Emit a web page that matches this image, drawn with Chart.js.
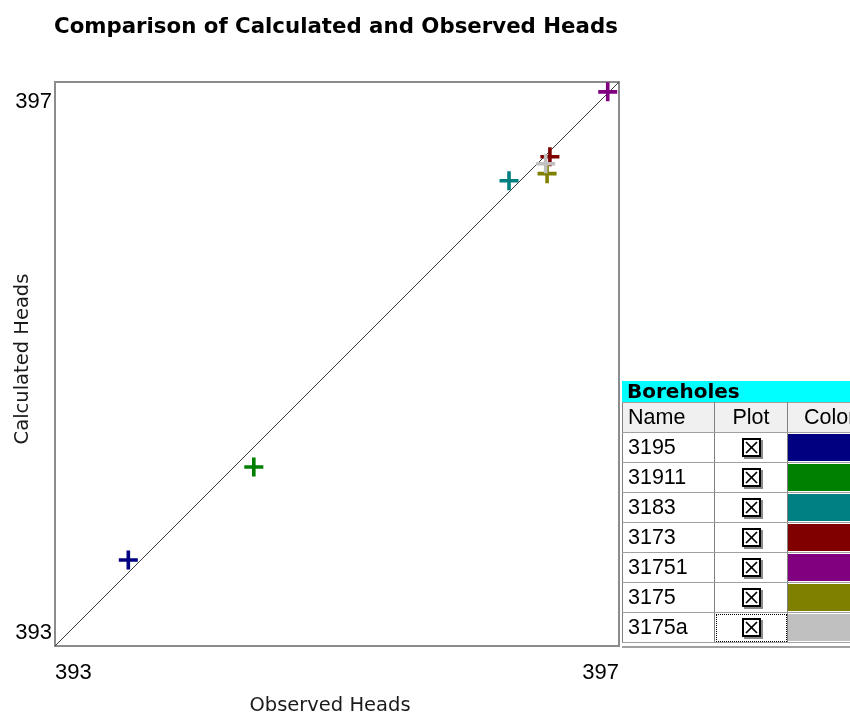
<!DOCTYPE html>
<html>
<head>
<meta charset="utf-8">
<script src="https://cdn.jsdelivr.net/npm/chart.js@4.4.1/dist/chart.umd.min.js"></script>
<style>
  html, body { margin:0; padding:0; background:#fff; }
  #wrap { position:relative; width:850px; height:715px; overflow:hidden; background:#fff; }
  #c { position:absolute; left:0; top:0; }
  #bh { position:absolute; left:622px; top:381px; width:240px; }
  #bh .hdr { background:#00ffff; height:21px; font:bold 20px "DejaVu Sans", sans-serif; line-height:21px; padding-left:5px; color:#000; }
  #bh table { border-collapse:collapse; table-layout:fixed; width:240px; font:21.5px "Liberation Sans", Arial, sans-serif; color:#000; }
  #bh td { height:29px; padding:0; border-top:1px solid #a0a0a0; border-bottom:1px solid #a0a0a0; border-left:1px solid #808080; border-right:1px solid #808080; overflow:hidden; white-space:nowrap; }
  #bh tr.head td { background:#f0f0f0; }
  #bh td.name { padding-left:5px; }
  #bh td.plot { text-align:center; }
  #bh td.color { padding:0; }
  #bh td.color div { height:27px; margin:1px 0; }
  #bh tr.head td.color { padding-left:16px; }
  .cb { display:inline-block; width:15px; height:15px; border:2px solid #000; background:#fff; box-shadow:2px 2px 0 #8a8a8a; vertical-align:middle; position:relative; top:-1px; }
  .cb svg { display:block; }
  td.focus { outline:1px dotted #000; outline-offset:-2px; }
  #bh .bottom { height:3px; border-bottom:2px solid #a0a0a0; }
</style>
</head>
<body>
<div id="wrap">
  <canvas id="c" width="850" height="715"></canvas>
  <div id="bh">
    <div class="hdr">Boreholes</div>
    <table id="tbl"></table>
    <div class="bottom"></div>
  </div>
</div>
<script>
// ---- data ----
const boreholes  = ['3195', '31911', '3183', '3173', '31751', '3175', '3175a'];
const observed   = [393.52, 394.41, 396.22, 396.51, 396.92, 396.49, 396.48];
const calculated = [393.61, 394.27, 396.30, 396.47, 396.93, 396.35, 396.42];
const colors     = ['#000080', '#008000', '#008080', '#800000', '#800080', '#808000', '#c0c0c0'];
const tickValues = [393, 397];
const tickLabels = ['393', '397'];
const titleText  = 'Comparison of Calculated and Observed Heads';
const xTitle     = 'Observed Heads';
const yTitle     = 'Calculated Heads';

// ---- legend table ----
(function buildTable(){
  const t = document.getElementById('tbl');
  let html = '<colgroup><col style="width:92px"><col style="width:73px"><col style="width:75px"></colgroup>';
  html += '<tr class="head"><td class="name">Name</td><td class="plot">Plot</td><td class="color">Color</td></tr>';
  const box = '<span class="cb"><svg width="15" height="15"><line x1="2" y1="2" x2="13" y2="13" stroke="#000" stroke-width="1.7"/><line x1="13" y1="2" x2="2" y2="13" stroke="#000" stroke-width="1.7"/></svg></span>';
  boreholes.forEach((b, i) => {
    const focus = i === boreholes.length - 1 ? ' focus' : '';
    html += '<tr><td class="name">' + b + '</td><td class="plot' + focus + '">' + box +
            '</td><td class="color"><div style="background:' + colors[i] + '"></div></td></tr>';
  });
  t.innerHTML = html;
})();

// ---- chart ----
const datasets = [{
  type: 'line',
  data: [{x: tickValues[0], y: tickValues[0]}, {x: tickValues[1], y: tickValues[1]}],
  borderColor: '#3a3a3a',
  borderWidth: 1,
  pointRadius: 0,
  order: 100
}];
boreholes.forEach((b, i) => {
  datasets.push({
    label: b,
    data: [{x: observed[i], y: calculated[i]}],
    pointStyle: 'cross',
    pointRadius: 9.5,
    pointBorderWidth: 3.6,
    pointBorderColor: colors[i],
    pointBackgroundColor: colors[i],
    borderColor: colors[i],
    backgroundColor: colors[i],
    order: boreholes.length - i
  });
});

const decor = {
  id: 'decor',
  beforeDatasetsDraw(chart) {
    const {ctx, chartArea: a} = chart;
    ctx.save();
    ctx.strokeStyle = '#8c8c8c';
    ctx.lineWidth = 2;
    ctx.strokeRect(a.left, a.top, a.right - a.left, a.bottom - a.top);
    ctx.restore();
  },
  afterDraw(chart) {
    const {ctx, chartArea: a, scales: {x, y}} = chart;
    ctx.save();
    ctx.fillStyle = '#000';
    // title
    ctx.font = 'bold 21.3px "DejaVu Sans", sans-serif';
    ctx.textAlign = 'left';
    ctx.textBaseline = 'alphabetic';
    ctx.fillText(titleText, a.left - 1, 33);
    // tick labels
    ctx.font = '22px "Liberation Sans", Arial, sans-serif';
    ctx.textAlign = 'right';
    ctx.fillText(tickLabels[1], a.left - 3, y.getPixelForValue(tickValues[1]) + 26);
    ctx.fillText(tickLabels[0], a.left - 3, y.getPixelForValue(tickValues[0]) - 7);
    ctx.textAlign = 'left';
    ctx.fillText(tickLabels[0], x.getPixelForValue(tickValues[0]), a.bottom + 33);
    ctx.textAlign = 'right';
    ctx.fillText(tickLabels[1], x.getPixelForValue(tickValues[1]), a.bottom + 33);
    // axis titles
    ctx.font = '19.5px "DejaVu Sans", sans-serif';
    ctx.fillStyle = '#1a1a1a';
    ctx.textAlign = 'center';
    ctx.fillText(xTitle, 330, a.bottom + 65);
    ctx.translate(28, 359);
    ctx.rotate(-Math.PI / 2);
    ctx.fillText(yTitle, 0, 0);
    ctx.restore();
  }
};

new Chart(document.getElementById('c'), {
  type: 'scatter',
  data: { datasets },
  options: {
    responsive: false,
    animation: false,
    layout: { autoPadding: false, padding: { left: 55, top: 82, right: 231, bottom: 69 } },
    plugins: { legend: { display: false }, title: { display: false }, tooltip: { enabled: false } },
    scales: {
      x: { type: 'linear', min: tickValues[0], max: tickValues[1], display: false },
      y: { type: 'linear', min: tickValues[0], max: tickValues[1], display: false }
    },
    elements: { line: { tension: 0 } },
    clip: false
  },
  plugins: [decor]
});
</script>
</body>
</html>
